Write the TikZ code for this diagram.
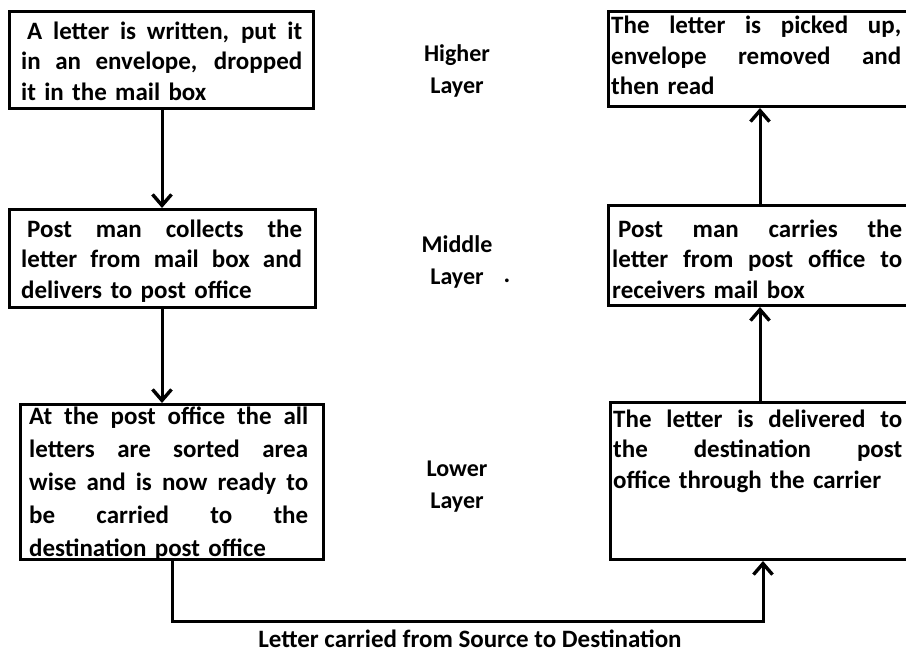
\documentclass[tikz,border=0pt]{standalone}
\usepackage{fontspec}
\setmainfont{Carlito}
\usetikzlibrary{arrows.meta}
% one justified line, its word spaces stretched to the full text width
\newcommand\sline[1]{\leavevmode\hbox to \hsize{\spaceskip=.25em plus 1fil\relax #1}\\}
\begin{document}
\begin{tikzpicture}[x=1pt,y=-1pt,
  every node/.style={font=\bfseries\fontsize{25}{30.5}\selectfont},
  frame/.style={draw, line width=3pt, rectangle, inner sep=0pt},
  body/.style={anchor=base west, inner sep=0pt, align=left},
  layer/.style={align=center, inner sep=0pt, font=\bfseries\fontsize{24}{32}\selectfont},
  link/.style={line width=3pt, -{Straight Barb[length=11pt,width=19pt,line width=3.4pt]}},
  wire/.style={line width=3pt}]
\useasboundingbox (0,0) rectangle (906,653);
\clip (0,0) rectangle (906,653);

% ---- sender side boxes
\node[frame, minimum width=304pt, minimum height=97pt, anchor=north west] (b1) at (8,10) {};
\node[frame, minimum width=306pt, minimum height=98pt, anchor=north west] (b2) at (8,208) {};
\node[frame, minimum width=303pt, minimum height=155pt, anchor=north west] (b3) at (19,403) {};

% ---- receiver side boxes (running past the right edge)
\node[frame, minimum width=320pt, minimum height=95pt, anchor=north west] (r1) at (607,10) {};
\node[frame, minimum width=320pt, minimum height=100pt, anchor=north west] (r2) at (607,204) {};
\node[frame, minimum width=320pt, minimum height=157pt, anchor=north west] (r3) at (609,401) {};

% ---- box texts
\node[body, text width=281pt] (t1) at (21,39)
  {\sline{\hspace*{6pt}A letter is written, put it}\sline{in an envelope, dropped}it in the mail box};
\node[body, text width=281pt] (t2) at (21,237)
  {\sline{\hspace*{6pt}Post man collects the}\sline{letter from mail box and}delivers to post office};
\node[body, text width=279pt, font=\bfseries\fontsize{25}{33}\selectfont] (t3) at (29,424)
  {\sline{At the post office the all}\sline{letters are sorted area}\sline{wise and is now ready to}\sline{be carried to the}destination post office};
\node[body, text width=290pt] (u1) at (611,34)
  {\sline{The letter is picked up,}\sline{envelope removed and}then read};
\node[body, text width=290pt] (u2) at (612,237)
  {\sline{\hspace*{6pt}Post man carries the}\sline{letter from post office to}receivers mail box};
\node[body, text width=289pt] (u3) at (613,427)
  {\sline{The letter is delivered to}\sline{the destination post}office through the carrier};

% ---- layer names
\node[layer] (hl) at (457,71) {Higher\\Layer};
\node[layer] (ml) at (457,262) {Middle\\Layer};
\node[inner sep=0pt] (dot) at (507,281) {.};
\node[layer] (ll) at (457,487) {Lower\\Layer};

% ---- bottom caption
\node[inner sep=0pt] (cap) at (470,639) {Letter carried from Source to Destination};

% ---- connectors
\coordinate (xl) at (162,0);
\coordinate (xr) at (760,0);
\coordinate (xs) at (172,0);
\coordinate (xd) at (763,0);
\coordinate (low) at (0,621);
\draw[link] (b1.south -| xl) -- (b2.north -| xl);
\draw[link] (b2.south -| xl) -- (b3.north -| xl);
\draw[link] (r3.north -| xr) -- (r2.south -| xr);
\draw[link] (r2.north -| xr) -- (r1.south -| xr);
\draw[wire] (b3.south -| xs) -- (xs |- low) -- (xd |- low);
\draw[link] ([yshift=-1.5pt]xd |- low) -- (r3.south -| xd);
\end{tikzpicture}
\end{document}
